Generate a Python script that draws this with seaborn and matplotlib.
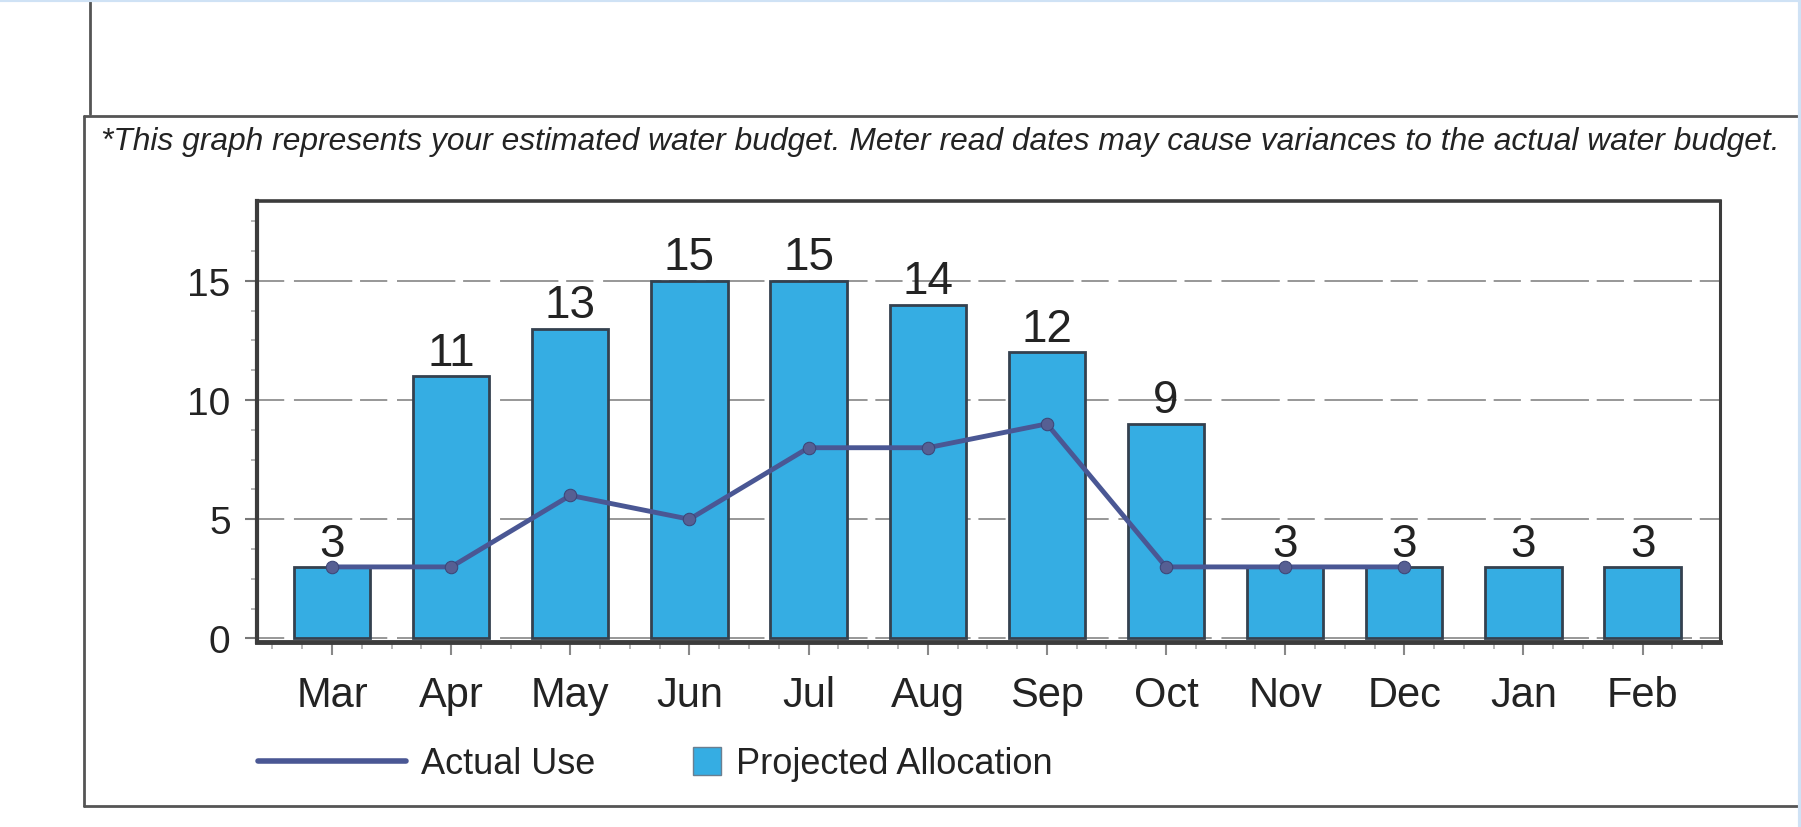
import numpy as np
import pandas as pd
import matplotlib
matplotlib.use("Agg")
import matplotlib.pyplot as plt
from matplotlib.lines import Line2D
from matplotlib.patches import Patch
from matplotlib.ticker import MultipleLocator, FixedLocator
import seaborn as sns

# Monthly water budget (units) and actual use to date
months = ["Mar", "Apr", "May", "Jun", "Jul", "Aug", "Sep", "Oct", "Nov", "Dec", "Jan", "Feb"]
projected = [3, 11, 13, 15, 15, 14, 12, 9, 3, 3, 3, 3]
actual = [3, 3, 6, 5, 8, 8, 9, 3, 3, 3]
y_ticks = [0, 5, 10, 15]
note = ("*This graph represents your estimated water budget. "
        "Meter read dates may cause variances to the actual water budget.")

BAR = "#35ade3"
BAR_EDGE = "#34414f"
LINE = "#4a5794"
INK = "#232323"
FRAME = "#555555"

sns.set_theme(style="white")
plt.rcParams["font.family"] = ["Liberation Sans", "DejaVu Sans"]

W, H = 1801, 828
fig = plt.figure(figsize=(W / 100, H / 100), dpi=100)
fig.patch.set_facecolor("white")


def fx(px):
    return px / W


def fy(py):
    return 1 - py / H


ax = fig.add_axes([fx(257), fy(643), fx(1720) - fx(257), fy(202) - fy(643)])

df = pd.DataFrame({"month": months, "projected": projected})
sns.barplot(data=df, x="month", y="projected", ax=ax, color=BAR, saturation=1,
            width=0.64, edgecolor=BAR_EDGE, linewidth=2, zorder=2)
bars = ax.containers[0]
ax.bar_label(bars, labels=[str(v) for v in projected], padding=1,
             fontsize=33, color=INK)

use = pd.DataFrame({"pos": np.arange(len(actual)), "actual": actual})
sns.lineplot(data=use, x="pos", y="actual", ax=ax, color=LINE, linewidth=3.5,
             marker="o", markersize=9, markeredgecolor="#3d4677",
             markerfacecolor="#565f93", legend=False, zorder=3)

ax.set_xlim(-0.63, 11.65)
ax.set_ylim(-0.15, 18.35)
ax.set_xlabel("")
ax.set_ylabel("")

ax.yaxis.set_major_locator(FixedLocator(y_ticks))
ax.yaxis.set_minor_locator(MultipleLocator(1.25))
ax.xaxis.set_minor_locator(MultipleLocator(0.25))

ax.tick_params(axis="y", which="major", left=True, length=9, width=1.5,
               color="#777777", labelsize=28, labelcolor=INK, pad=10)
ax.tick_params(axis="y", which="minor", left=True, length=4, width=1.2,
               color="#aaaaaa")
ax.tick_params(axis="x", which="major", bottom=True, length=9, width=1.5,
               color="#888888", labelsize=30, labelcolor=INK, pad=15)
ax.tick_params(axis="x", which="minor", bottom=True, length=5, width=1.2,
               color="#aaaaaa")

ax.set_axisbelow(True)
ax.grid(axis="y", which="major", color="#6a6a6a", linewidth=1.4,
        linestyle=(0, (14, 5, 30, 4)), alpha=0.7)

for side, lw in {"left": 3.0, "bottom": 3.5, "top": 2.6, "right": 2.2}.items():
    ax.spines[side].set_visible(True)
    ax.spines[side].set_color("#3c3c3c")
    ax.spines[side].set_linewidth(lw)

# Legend: line handle and square swatch
line_handle = Line2D([], [], color=LINE, linewidth=4)
patch_handle = Patch(facecolor=BAR, edgecolor="#6a7f90", linewidth=1)
fig.legend([line_handle], ["Actual Use"], loc="center left",
           bbox_to_anchor=(fx(258), fy(765)), frameon=False,
           fontsize=26, handlelength=4.1, handletextpad=0.4,
           borderpad=0, borderaxespad=0, labelcolor=INK)
fig.legend([patch_handle], ["Projected Allocation"], loc="center left",
           bbox_to_anchor=(fx(693), fy(765)), frameon=False,
           fontsize=26, handlelength=0.78, handleheight=0.78,
           handletextpad=0.4, borderpad=0, borderaxespad=0,
           labelcolor=INK)

# Surrounding statement frame
frame_lines = [
    ([fx(90), fx(90)], [1, fy(115)]),
    ([fx(84), 1], [fy(117), fy(117)]),
    ([fx(84), fx(84)], [fy(117), fy(807)]),
    ([fx(84), 1], [fy(807), fy(807)]),
]
for xs, ys in frame_lines:
    fig.add_artist(Line2D(xs, ys, transform=fig.transFigure, color=FRAME,
                          linewidth=2))
fig.add_artist(Line2D([0, 1], [fy(1), fy(1)], transform=fig.transFigure,
                      color="#cfe2f5", linewidth=3))
fig.add_artist(Line2D([fx(1800), fx(1800)], [0, 1], transform=fig.transFigure,
                      color="#cfe2f5", linewidth=3))

fig.text(fx(101), fy(150), note, fontsize=22.9, style="italic", color=INK,
         va="baseline", ha="left")

fig.savefig("out.png", dpi=100, facecolor="white")
